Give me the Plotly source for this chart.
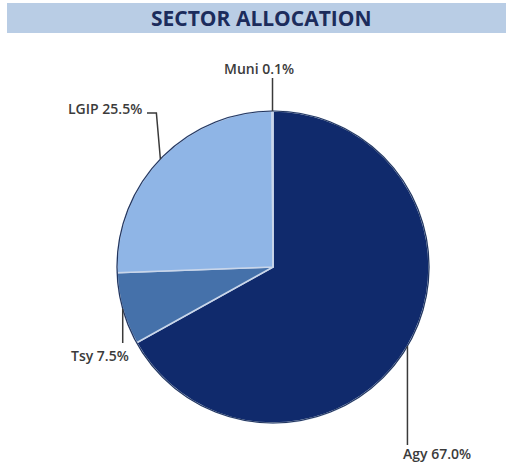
import math
import plotly.graph_objects as go

# ---- data ----
sectors = ["Agy", "Tsy", "LGIP", "Muni"]
values = [67.0, 7.5, 25.5, 0.1]
label_texts = ["Agy 67.0%", "Tsy 7.5%", "LGIP 25.5%", "Muni 0.1%"]
colors = ["#102a6c", "#4571aa", "#8fb5e6", "#5b6f8c"]

W, H = 506, 470
CX, CY, R = 273, 267, 156  # pie centre / radius in pixels


def px(x):
    return x / W


def py(y):
    return 1 - y / H


fig = go.Figure()
fig.add_trace(go.Pie(
    labels=sectors, values=values, sort=False, direction="clockwise",
    rotation=0, textinfo="none", hoverinfo="label+percent",
    marker=dict(colors=colors, line=dict(color="#c9d6ea", width=1.5)),
    domain=dict(x=[px(CX - R), px(CX + R)], y=[py(CY + R), py(CY - R)]),
    showlegend=False,
))

# outer rim for a subtle bevel feel
fig.add_shape(type="circle", xref="paper", yref="paper",
              x0=px(CX - R), x1=px(CX + R), y0=py(CY + R), y1=py(CY - R),
              line=dict(color="#22355e", width=1.2))

# edge points computed from slice mid-angles
total = sum(values)
edges = []
acc = 0.0
for v in values:
    mid = (acc + v / 2) / total * 2 * math.pi
    acc += v
    edges.append((CX + R * math.sin(mid), CY - R * math.cos(mid)))

line_style = dict(color="#3a3a3a", width=1.5)
font = dict(family="Open Sans, Arial", size=14, color="#3b3b3b", weight=600)

# style offsets per label
label_style = {
    "Agy": dict(yend=445, tx=edges[0][0] - 6, ty=453, xa="left"),
    "Tsy": dict(yend=343, tx=edges[1][0] + 8, ty=355, xa="right"),
    "LGIP": dict(yend=113, tx=144, ty=108, xa="right", hx=147),
    "Muni": dict(yend=78, tx=edges[3][0] - 14, ty=68, xa="center"),
}

for name, text, (ex, ey) in zip(sectors, label_texts, edges):
    st = label_style[name]
    if name == "LGIP":
        fig.add_shape(type="path", xref="paper", yref="paper",
                      path=f"M {px(ex)} {py(ey)} L {px(ex - 4)} {py(st['yend'])} L {px(st['hx'])} {py(st['yend'])}",
                      line=line_style)
    else:
        fig.add_shape(type="line", xref="paper", yref="paper",
                      x0=px(ex), x1=px(ex), y0=py(ey), y1=py(st["yend"]),
                      line=line_style)
    fig.add_annotation(x=px(st["tx"]), y=py(st["ty"]), xref="paper", yref="paper",
                       text=text, showarrow=False, xanchor=st["xa"], yanchor="middle",
                       font=font)

# title band
fig.add_shape(type="rect", xref="paper", yref="paper",
              x0=px(7), x1=1, y0=py(33), y1=py(3),
              fillcolor="#b9cde5", line=dict(width=0), layer="below")
fig.add_annotation(x=px(261), y=py(18), xref="paper", yref="paper",
                   text="<b>SECTOR ALLOCATION</b>", showarrow=False,
                   xanchor="center", yanchor="middle",
                   font=dict(family="Open Sans, Arial", size=21, color="#1c2c5c"))

fig.update_layout(width=W, height=H, margin=dict(l=0, r=0, t=0, b=0),
                  paper_bgcolor="white", plot_bgcolor="white")
fig.write_html("out.html", config={"displayModeBar": False},
               post_script="document.body.style.margin='0';document.body.style.overflow='hidden';")
